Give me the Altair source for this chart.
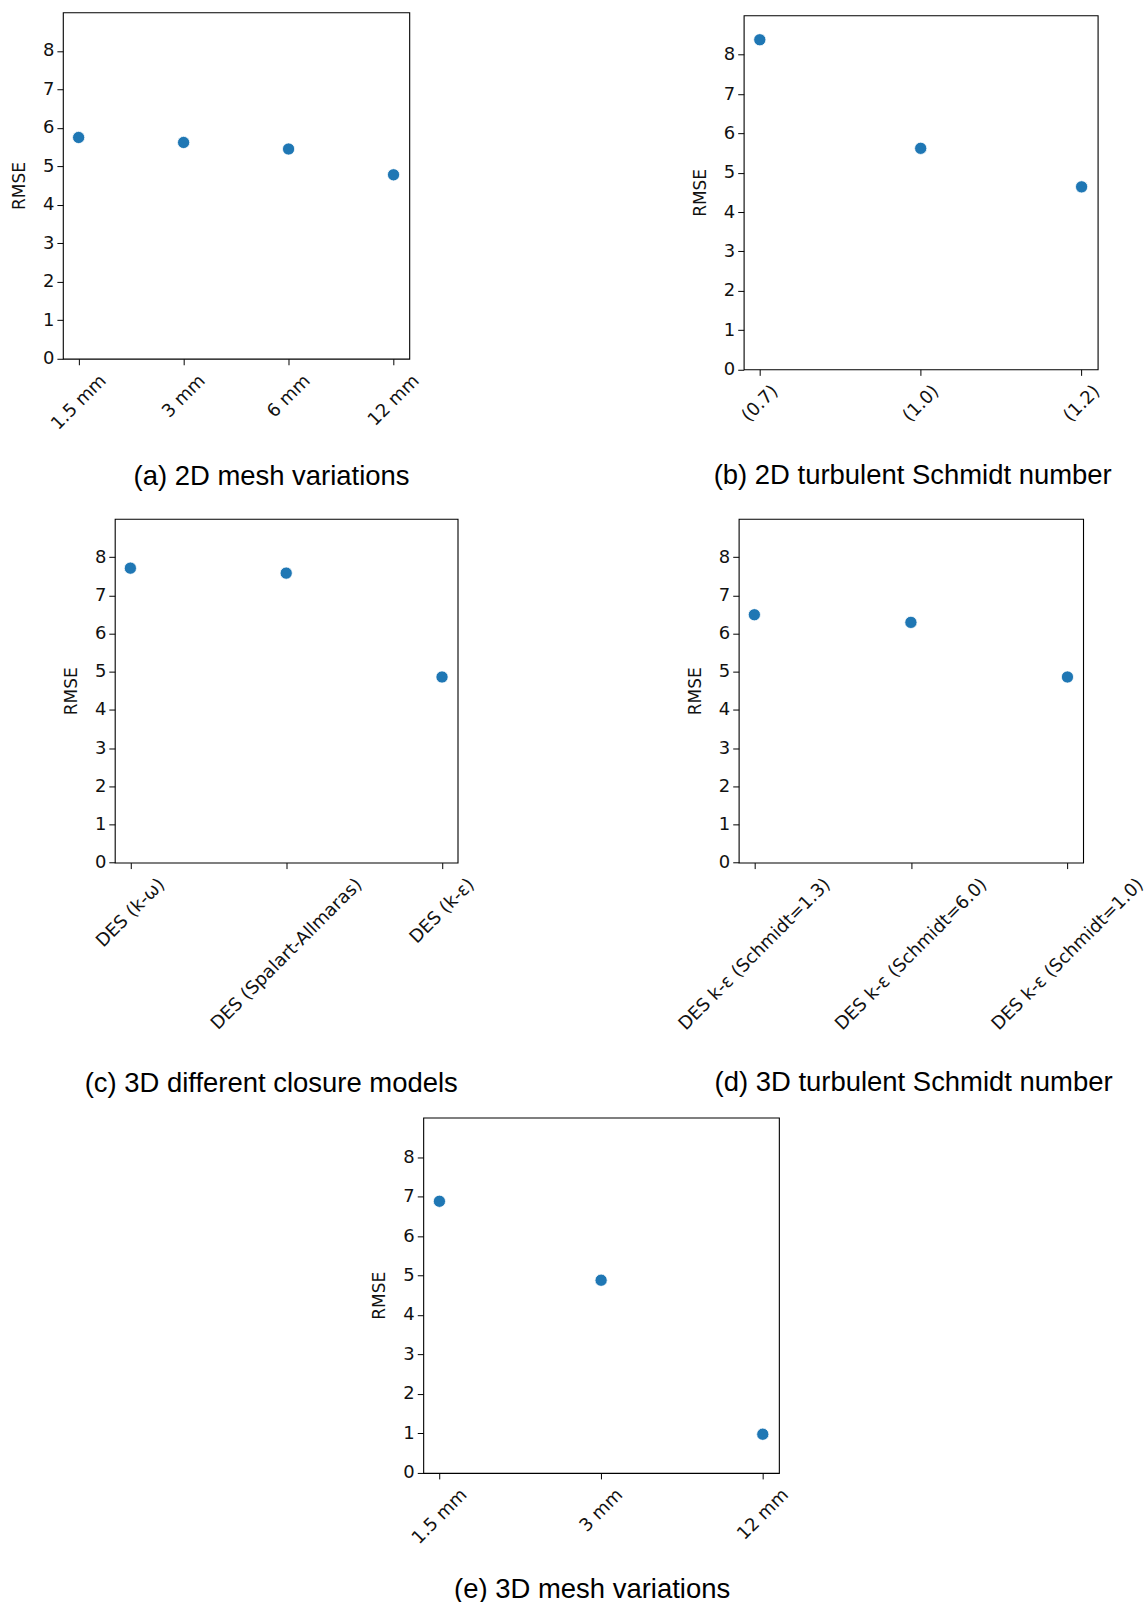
import altair as alt
import pandas as pd

# ---------------- data ----------------
a_labels = ["1.5 mm", "3 mm", "6 mm", "12 mm"]
a_rmse = [5.75, 5.62, 5.45, 4.78]

b_labels = ["(0.7)", "(1.0)", "(1.2)"]
b_rmse = [8.38, 5.62, 4.64]

c_labels = ["DES (k-ω)", "DES (Spalart-Allmaras)", "DES (k-ε)"]
c_rmse = [7.71, 7.58, 4.86]

d_labels = ["DES k-ε (Schmidt=1.3)", "DES k-ε (Schmidt=6.0)", "DES k-ε (Schmidt=1.0)"]
d_rmse = [6.49, 6.29, 4.86]

e_labels = ["1.5 mm", "3 mm", "12 mm"]
e_rmse = [6.88, 4.88, 0.98]

captions = [
    "(a) 2D mesh variations",
    "(b) 2D turbulent Schmidt number",
    "(c) 3D different closure models",
    "(d) 3D turbulent Schmidt number",
    "(e) 3D mesh variations",
]
y_ticks = [0, 1, 2, 3, 4, 5, 6, 7, 8]

# ---------------- styling ----------------
TICK_FONT = "DejaVu Sans"
TICK_SIZE = 18
CAP_FONT = "Liberation Sans"
CAP_SIZE = 27.5
BLUE = "#1f77b4"
TXT = "#111111"

# approximate DejaVu Sans advance widths (units of 1/2048 em)
_W = {" ": 651, "(": 799, ")": 799, ".": 651, "-": 739, "=": 1716,
      "A": 1401, "D": 1577, "E": 1294, "S": 1300, "M": 1767, "R": 1423,
      "a": 1255, "c": 1126, "d": 1300, "h": 1298, "i": 569, "k": 1186,
      "l": 569, "m": 1995, "p": 1300, "r": 842, "s": 1067, "t": 803,
      "ω": 1716, "ε": 1088}


def text_len(s, size=TICK_SIZE):
    return sum(_W.get(ch, 1303) for ch in s) / 2048.0 * size


def label_offset(labels):
    # shift right-aligned rotated labels so their bounding box is centred on the tick
    conds = [{"test": "datum.value === '%s'" % lab, "value": round(0.3536 * text_len(lab), 1)}
             for lab in labels]
    return {"condition": conds, "value": 0}


def panel(labels, values, caption, w, h, cap_dx, cap_offset):
    df = pd.DataFrame({"label": labels, "rmse": values})
    n = len(labels)
    x = alt.X(
        "label:N",
        sort=labels,
        scale=alt.Scale(type="point", padding=0.05 * (n - 1)),
        axis=alt.Axis(
            title=None,
            labelAngle=315,
            labelAlign="right",
            labelBaseline="middle",
            labelPadding=13,
            labelOffset=label_offset(labels),
            labelLimit=600,
            labelFont=TICK_FONT,
            labelFontSize=TICK_SIZE,
            labelColor=TXT,
            tickSize=6,
            tickWidth=1,
            tickColor="black",
            domain=False,
            grid=False,
        ),
    )
    y = alt.Y(
        "rmse:Q",
        scale=alt.Scale(domain=[0, 9], nice=False, zero=True),
        axis=alt.Axis(
            values=y_ticks,
            title="RMSE",
            titleFont=TICK_FONT,
            titleFontSize=17,
            titleFontWeight="normal",
            titleColor=TXT,
            titlePadding=14,
            labelFont=TICK_FONT,
            labelFontSize=TICK_SIZE,
            labelColor=TXT,
            labelPadding=3,
            tickSize=6,
            tickWidth=1,
            tickColor="black",
            domain=False,
            grid=False,
        ),
    )
    return (
        alt.Chart(df)
        .mark_circle(size=150, color=BLUE, opacity=1, stroke="white", strokeWidth=0.8)
        .encode(x=x, y=y)
        .properties(
            width=w,
            height=h,
            title=alt.TitleParams(
                text=caption,
                orient="bottom",
                anchor="middle",
                frame="group",
                dx=cap_dx,
                offset=cap_offset,
                font=CAP_FONT,
                fontSize=CAP_SIZE,
                fontWeight="normal",
                color="black",
            ),
        )
    )


def spacer(w, h):
    return (
        alt.Chart(pd.DataFrame({"s": [0]}))
        .mark_point(opacity=0)
        .encode(x=alt.X("s:Q", axis=None), y=alt.Y("s:Q", axis=None))
        .properties(width=w, height=h, view=alt.ViewBackground(stroke="transparent"))
    )


pa = panel(a_labels, a_rmse, captions[0], 347, 347, 35.5, 29.5)
pb = panel(b_labels, b_rmse, captions[1], 354.6, 354.6, -8, 37.4)
pc = panel(c_labels, c_rmse, captions[2], 343.4, 344.3, -15, 37)
pd_ = panel(d_labels, d_rmse, captions[3], 345, 344.3, 2.7, 35.3)
pe = panel(e_labels, e_rmse, captions[4], 356.3, 356, -9, 28.7)

row1 = alt.hconcat(
    spacer(62, 1), pa, spacer(335, 1),
    alt.vconcat(spacer(1, 2.7), pb, spacing=0, bounds="flush"),
    spacing=0, bounds="flush",
)
row2 = alt.hconcat(spacer(113.3, 1), pc, spacer(280.6, 1), pd_, spacing=0, bounds="flush")
row3 = alt.hconcat(spacer(422.7, 1), pe, spacing=0, bounds="flush")

chart = (
    alt.vconcat(
        alt.vconcat(row1, row2, spacing=25.4),
        row3,
        spacing=16.1,
    )
    .properties(padding={"left": 0, "top": 8, "right": 0, "bottom": 0}, background="white")
    .configure_view(stroke="black", strokeWidth=1.1)
)

chart.save("out.html", embed_options={"renderer": "svg", "actions": False})
